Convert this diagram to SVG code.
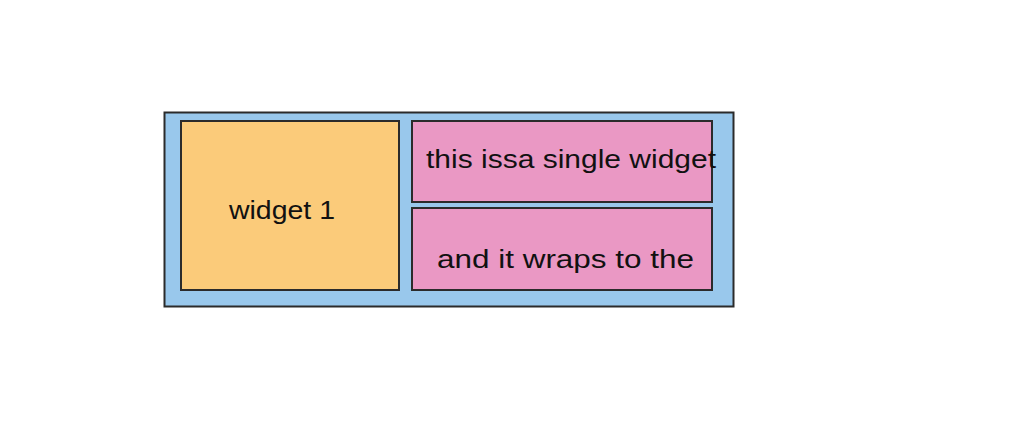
<svg xmlns="http://www.w3.org/2000/svg" width="1026" height="448" viewBox="0 0 1026 448">
<style>
.box{stroke:#2b2b2b;stroke-width:2}
.t{font-family:"Liberation Sans",Arial,sans-serif;font-size:26px;fill:#111}
</style>
<rect width="1026" height="448" fill="#ffffff"/>
<g id="container">
<rect class="box" x="164.5" y="112.5" width="569" height="194" fill="#99c8ec"/>
</g>
<g id="widget1">
<rect class="box" x="181" y="121" width="218" height="169" fill="#fbcb7a"/>
<text class="t" x="229" y="219" textLength="106" lengthAdjust="spacingAndGlyphs">widget 1</text>
</g>
<g id="widget2">
<rect class="box" x="412" y="121" width="300" height="81" fill="#ea98c4"/>
<text class="t" x="426" y="168" textLength="290" lengthAdjust="spacingAndGlyphs">this issa single widget</text>
</g>
<g id="widget3">
<rect class="box" x="412" y="208" width="300" height="82" fill="#ea98c4"/>
<text class="t" x="437" y="268" textLength="257" lengthAdjust="spacingAndGlyphs">and it wraps to the</text>
</g>
<g id="connectors"></g>
</svg>
